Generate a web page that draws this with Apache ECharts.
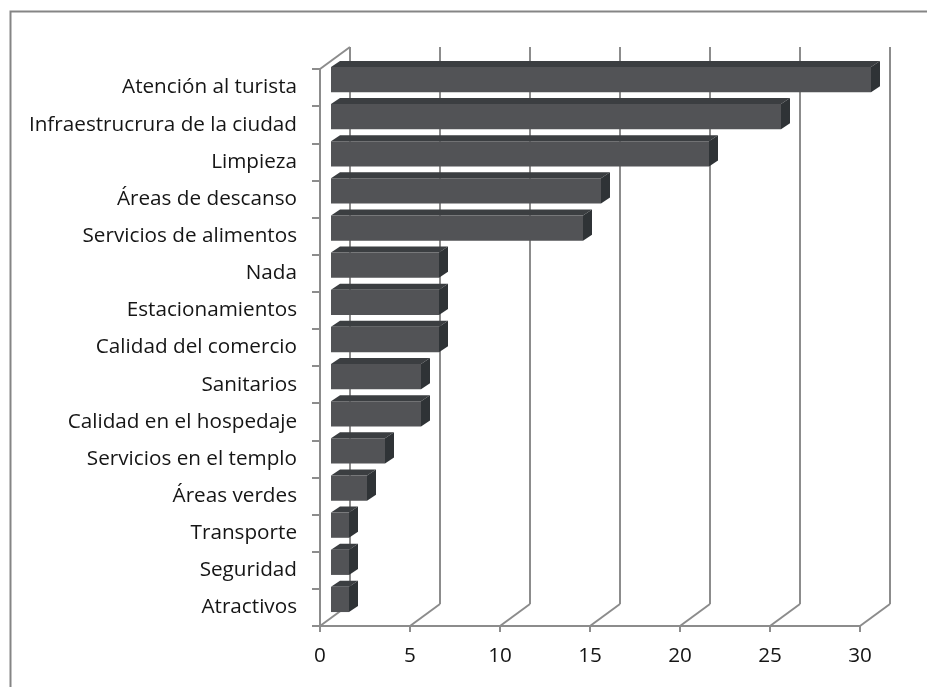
<!DOCTYPE html>
<html>
<head>
<meta charset="utf-8">
<script src="https://cdn.jsdelivr.net/npm/echarts@6/dist/echarts.min.js"></script>
<style>
  html, body { margin: 0; padding: 0; background: #fff; }
  #chart { width: 927px; height: 687px; }
</style>
</head>
<body>
<div id="chart"></div>
<script>
// categorias (de arriba hacia abajo) y sus valores
const categories = [
  'Atención al turista', 'Infraestrucrura de la ciudad', 'Limpieza', 'Áreas de descanso',
  'Servicios de alimentos', 'Nada', 'Estacionamientos', 'Calidad del comercio', 'Sanitarios',
  'Calidad en el hospedaje', 'Servicios en el templo', 'Áreas verdes', 'Transporte',
  'Seguridad', 'Atractivos'
]
const values = [30, 25, 21, 15, 14, 6, 6, 6, 5, 5, 3, 2, 1, 1, 1]
const xTicks = [0, 5, 10, 15, 20, 25, 30]

const DX = 30, DY = -22         // profundidad del "3D"
const GRID = '#8c8c8c'
const FONT = 'Open Sans'

const chart = echarts.init(document.getElementById('chart'))

// paredes: lineas del fondo y diagonales del piso
function renderWall(params, api) {
  const v = api.value(0)
  const cs = params.coordSys
  const x = api.coord([v, 0])[0]
  const yTop = cs.y, yBot = cs.y + cs.height
  const style = { stroke: GRID, lineWidth: 2, fill: null }
  const children = [
    { type: 'line', shape: { x1: x + DX, y1: yTop + DY, x2: x + DX, y2: yBot + DY }, style },
    { type: 'line', shape: { x1: x, y1: yBot, x2: x + DX, y2: yBot + DY }, style }
  ]
  if (v === 0) {
    children.push({ type: 'line', shape: { x1: x, y1: yTop, x2: x + DX, y2: yTop + DY }, style })
  }
  return { type: 'group', children }
}

// barras con cara frontal, superior y lateral
function renderBar(params, api) {
  const val = api.value(0)
  const idx = api.value(1)
  const c0 = api.coord([0, idx])
  const c1 = api.coord([val, idx])
  const band = api.size([0, 1])[1]
  const h = band * 0.68
  const ox = 11, oy = -8       // cara frontal a media profundidad
  const dx = 9, dy = -6
  const x0 = c0[0] + ox, x1 = c1[0] + ox
  const yt = c0[1] + oy - h / 2, yb = yt + h
  return {
    type: 'group',
    children: [
      { type: 'polygon', shape: { points: [[x0, yt], [x1, yt], [x1 + dx, yt + dy], [x0 + dx, yt + dy]] },
        style: { fill: '#3b3e41' } },
      { type: 'polygon', shape: { points: [[x1, yt], [x1 + dx, yt + dy], [x1 + dx, yb + dy], [x1, yb]] },
        style: { fill: '#2f3336' } },
      { type: 'rect', shape: { x: x0, y: yt, width: x1 - x0, height: h },
        style: { fill: '#525356' } }
    ]
  }
}

const option = {
  animation: false,
  backgroundColor: '#fff',
  graphic: [{
    type: 'rect', left: 8, top: 9, silent: true,
    shape: { width: 1000, height: 800 },
    style: { fill: null, stroke: '#858585', lineWidth: 2 }
  }],
  grid: { left: 320, right: 67, top: 69, bottom: 61, containLabel: false },
  xAxis: {
    type: 'value', min: 0, max: 30, interval: 5,
    axisLine: { show: true, lineStyle: { color: GRID, width: 2 } },
    axisTick: { show: true, length: 6, lineStyle: { color: GRID, width: 2 } },
    axisLabel: { color: '#151515', fontFamily: FONT, fontSize: 20.7, margin: 20 },
    splitLine: { show: false }
  },
  yAxis: {
    type: 'category', data: categories, inverse: true,
    axisLine: { show: true, lineStyle: { color: GRID, width: 2 } },
    axisTick: { show: true, length: 8, lineStyle: { color: GRID, width: 2 } },
    axisLabel: { color: '#151515', fontFamily: FONT, fontSize: 20.7, margin: 23 }
  },
  series: [
    {
      type: 'custom', renderItem: renderWall, silent: true, z: 1,
      data: xTicks.map(v => [v, 0]),
      encode: { x: 0, y: 1 }
    },
    {
      type: 'custom', renderItem: renderBar, z: 2,
      data: values.map((v, i) => [v, i]),
      encode: { x: 0, y: 1 }
    }
  ]
}

chart.setOption(option)
</script>
</body>
</html>
